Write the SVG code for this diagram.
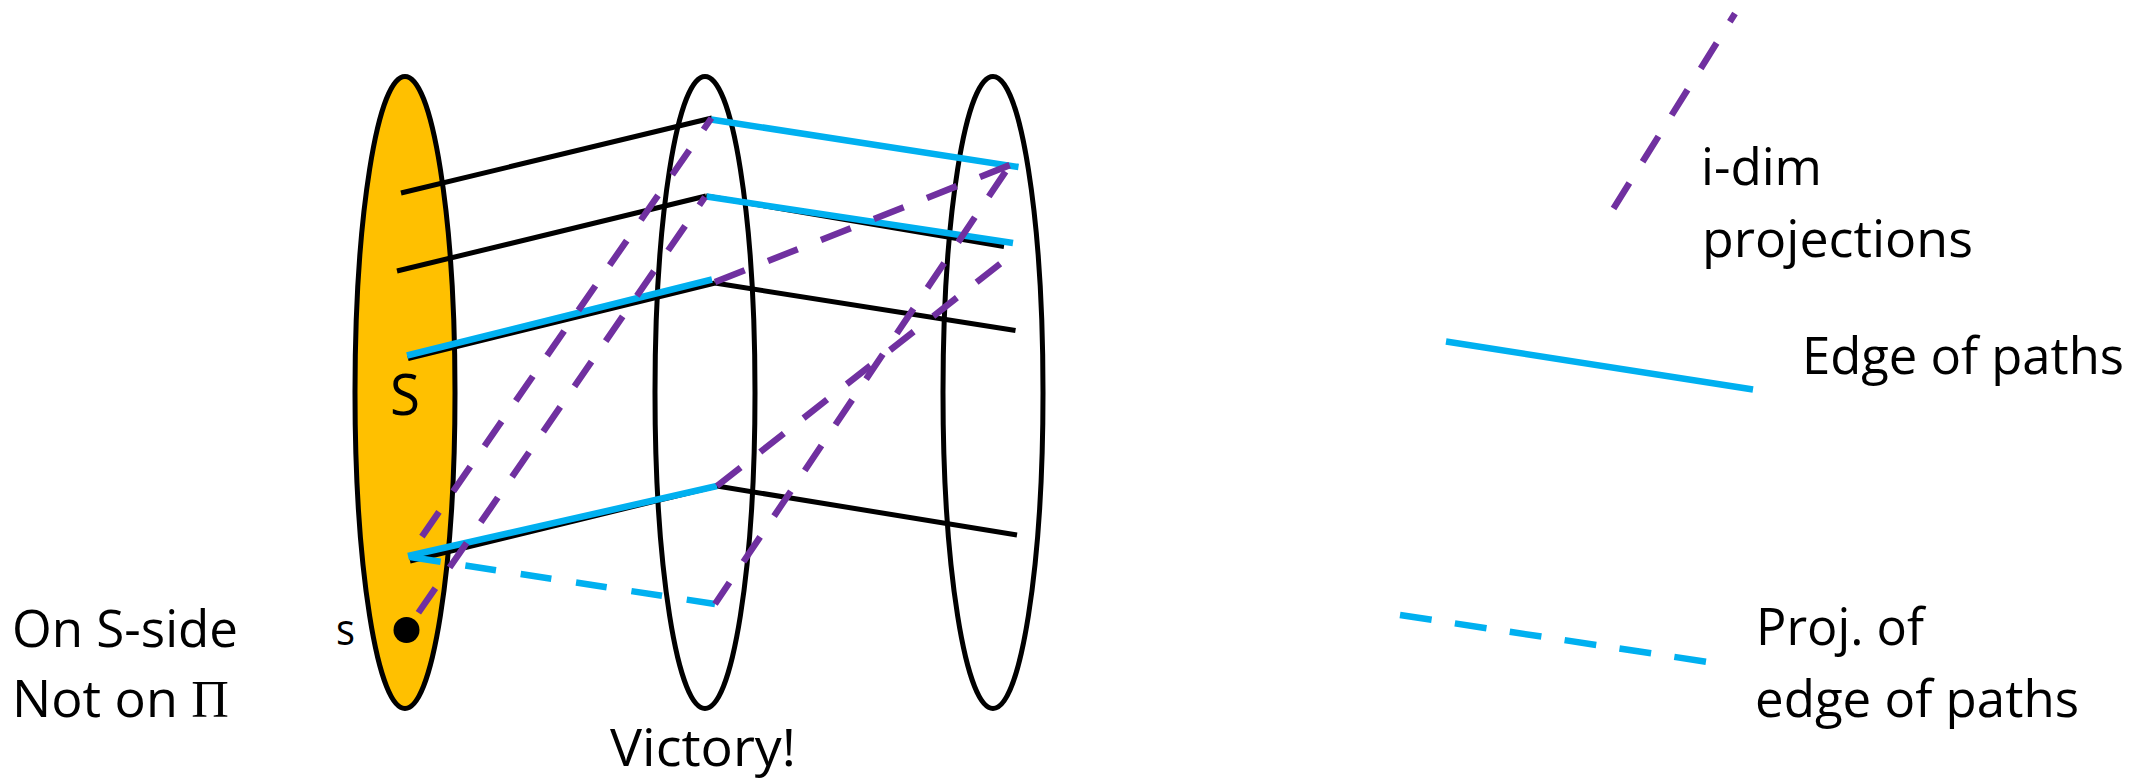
<svg xmlns="http://www.w3.org/2000/svg" width="2149" height="780" viewBox="0 0 2149 780">
<style>
.ell{stroke:#000;stroke-width:5;fill:none}
.blk{stroke:#000;stroke-width:5;fill:none}
.cy{stroke:#00B0F0;stroke-width:6.5;fill:none}
.cyd{stroke:#00B0F0;stroke-width:6.5;fill:none;stroke-dasharray:31 25}
.pu{stroke:#7030A0;stroke-width:6.5;fill:none;stroke-dasharray:30 25}
.t{font-family:"Open Sans","Liberation Sans",Arial,sans-serif;font-size:52px;fill:#000}
</style>
<rect width="2149" height="780" fill="#fff"/>
<g id="set-S">
<ellipse cx="405" cy="392.5" rx="50" ry="316" fill="#FFC000" stroke="#000" stroke-width="5"/>
</g>
<g id="set-mid">
<ellipse class="ell" cx="705" cy="392.5" rx="50" ry="316"/>
</g>
<g id="set-right">
<ellipse class="ell" cx="993" cy="392.5" rx="50" ry="316"/>
</g>
<g id="connectors">
<line class="blk" x1="401" y1="193" x2="712" y2="118"/>
<line class="blk" x1="397" y1="271" x2="706" y2="196"/>
<line class="blk" x1="706" y1="196" x2="1004" y2="246.5"/>
<line class="blk" x1="408" y1="358.5" x2="715" y2="283"/>
<line class="blk" x1="715" y1="283" x2="1015.5" y2="330.5"/>
<line class="blk" x1="410" y1="561" x2="717" y2="486"/>
<line class="blk" x1="717" y1="486" x2="1017" y2="535"/>
<line class="cy" x1="711" y1="119.5" x2="1018.5" y2="167"/>
<line class="cy" x1="706.5" y1="196.5" x2="1013" y2="243"/>
<line class="cy" x1="407" y1="355.5" x2="712" y2="279.5"/>
<line class="cy" x1="408" y1="556" x2="717" y2="486"/>
<line class="cyd" x1="410" y1="557" x2="715" y2="604"/>
<line class="pu" x1="711.5" y1="118" x2="408.5" y2="556" stroke-dashoffset="16"/>
<line class="pu" x1="705" y1="197" x2="406.5" y2="630" stroke-dashoffset="20"/>
<line class="pu" x1="715" y1="282" x2="1010" y2="165" style="stroke-dasharray:32 25"/>
<line class="pu" x1="1010" y1="165" x2="715" y2="604" stroke-dashoffset="-8"/>
<line class="pu" x1="717" y1="486" x2="1010" y2="256"/>
</g>
<g id="dot-s">
<circle cx="406.5" cy="630" r="13" fill="#000"/>
</g>
<g id="labels">
<text class="t" x="12" y="647" textLength="226" lengthAdjust="spacingAndGlyphs">On S-side</text>
<text class="t" x="12" y="717" textLength="217" lengthAdjust="spacingAndGlyphs">Not on <tspan font-family="Liberation Serif, serif">Π</tspan></text>
<text class="t" x="336" y="645" style="font-size:43px" textLength="19" lengthAdjust="spacingAndGlyphs">s</text>
<text class="t" x="390" y="415" style="font-size:56px" textLength="30" lengthAdjust="spacingAndGlyphs">S</text>
<text class="t" x="610" y="766" style="font-size:51px" textLength="186" lengthAdjust="spacingAndGlyphs">Victory!</text>
</g>
<g id="legend-proj">
<line class="pu" x1="1613.5" y1="208.5" x2="1735" y2="13.5"/>
<text class="t" x="1701" y="185" textLength="121" lengthAdjust="spacingAndGlyphs">i-dim</text>
<text class="t" x="1702" y="257" textLength="271" lengthAdjust="spacingAndGlyphs">projections</text>
</g>
<g id="legend-edge">
<line class="cy" x1="1446" y1="341.5" x2="1753" y2="389.5"/>
<text class="t" x="1802" y="374" textLength="322" lengthAdjust="spacingAndGlyphs">Edge of paths</text>
</g>
<g id="legend-projedge">
<line class="cyd" x1="1400" y1="615" x2="1708" y2="662" style="stroke-dasharray:32 23.5"/>
<text class="t" x="1756" y="645" textLength="168" lengthAdjust="spacingAndGlyphs">Proj. of</text>
<text class="t" x="1755" y="717" textLength="324" lengthAdjust="spacingAndGlyphs">edge of paths</text>
</g>
</svg>
